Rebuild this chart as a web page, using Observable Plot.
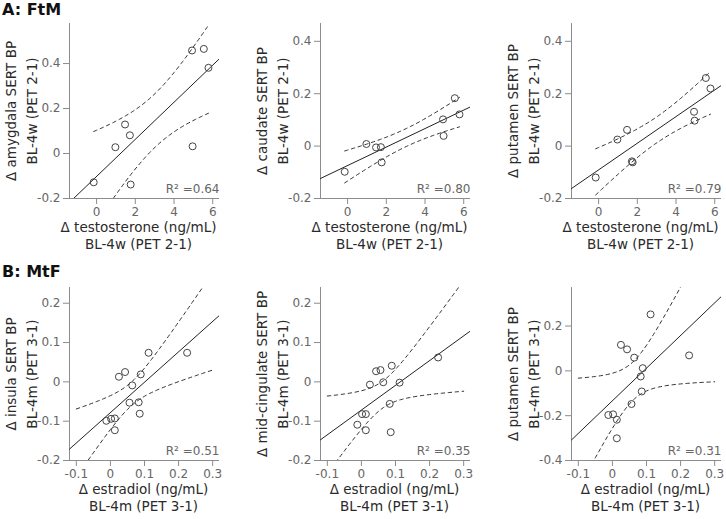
<!DOCTYPE html>
<html><head><meta charset="utf-8">
<script src="https://cdn.jsdelivr.net/npm/d3@7"></script>
<script src="https://cdn.jsdelivr.net/npm/@observablehq/plot@0.6"></script>
<style>
body{margin:0;background:#fff;font-family:"DejaVu Sans",Verdana,sans-serif;}
#wrap{position:relative;width:726px;height:519px;overflow:hidden;background:#fff;}
.pn{position:absolute;width:251px;height:259px;}
.pn svg{max-width:none !important;}
.ttl{position:absolute;font-weight:bold;font-size:16px;line-height:16px;color:#111;}
</style></head>
<body><div id="wrap"></div>
<script>
// ---- data ----
const testosterone = [-0.15, 0.97, 1.47, 1.72, 1.76, 4.93, 4.96, 5.54, 5.78];
const amygdalaFtM = [-0.128, 0.028, 0.129, 0.081, -0.138, 0.458, 0.032, 0.465, 0.381];
const caudateFtM  = [-0.098, 0.008, -0.005, -0.004, -0.062, 0.102, 0.039, 0.183, 0.121];
const putamenFtM  = [-0.120, 0.025, 0.062, -0.058, -0.062, 0.131, 0.097, 0.260, 0.220];

const estradiol = [-0.012, 0.002, 0.013, 0.013, 0.025, 0.043, 0.056, 0.064, 0.083, 0.086, 0.089, 0.112, 0.225];
const insulaMtF   = [-0.099, -0.094, -0.093, -0.123, 0.013, 0.025, -0.053, -0.009, -0.052, -0.081, 0.019, 0.074, 0.074];
const cingulateMtF= [-0.109, -0.082, -0.082, -0.123, -0.007, 0.027, 0.030, -0.001, -0.056, -0.128, 0.041, -0.002, 0.062];
const putamenMtF  = [-0.197, -0.194, -0.218, -0.301, 0.116, 0.096, -0.148, 0.059, -0.025, -0.092, 0.012, 0.252, 0.069];

const r2Labels = ["0.64", "0.80", "0.79", "0.51", "0.35", "0.31"];
const ticksTestosterone = [0, 2, 4, 6];
const ticksEstradiol = [-0.1, 0, 0.1, 0.2, 0.3];
const ticksA1 = [-0.2, 0, 0.2, 0.4];
const ticksA23 = [-0.2, 0, 0.2, 0.4];
const ticksB12 = [-0.2, -0.1, 0, 0.1, 0.2];
const ticksB3 = [-0.4, -0.2, 0, 0.2];
const ciRangeMtF = [-0.1, 0.3];
const tCrit = {7: 2.365, 11: 2.201};

// ---- helpers ----
function fit(xs, ys) {
  const n = xs.length, mx = d3.mean(xs), my = d3.mean(ys);
  let sxx = 0, sxy = 0;
  for (let i = 0; i < n; i++) { sxx += (xs[i]-mx)**2; sxy += (xs[i]-mx)*(ys[i]-my); }
  const b = sxy/sxx, a = my - b*mx;
  let sse = 0;
  for (let i = 0; i < n; i++) sse += (ys[i] - a - b*xs[i])**2;
  const s = Math.sqrt(sse/(n-2));
  const t = tCrit[n-2];
  return {a, b, f: x => a + b*x, half: x => t*s*Math.sqrt(1/n + (x-mx)**2/sxx)};
}

const axisColor = "#8c8c8c", tickText = "#666", labelColor = "#2a2a2a";
const fmt = d => String(d);

function panel(o) {
  const {xs, ys, xDomain, yDomain, xTicks, yTicks, yLabel, xLabel, r2, ciRange, mt, mb, xdx} = o;
  const m = fit(xs, ys);
  const pts = xs.map((x, i) => ({x, y: ys[i]}));
  const reg = xDomain.map(x => ({x, y: m.f(x)}));
  const ci = d3.range(0, 81).map(i => ciRange[0] + (ciRange[1]-ciRange[0])*i/80);
  const up = ci.map(x => ({x, y: m.f(x) + m.half(x)}));
  const lo = ci.map(x => ({x, y: m.f(x) - m.half(x)}));
  return Plot.plot({
    width: 251, height: 259,
    marginLeft: 69, marginRight: 32, marginTop: mt, marginBottom: mb,
    x: {domain: xDomain}, y: {domain: yDomain},
    style: {fontFamily: "DejaVu Sans", background: "transparent", overflow: "visible", maxWidth: "none"},
    marks: [
      Plot.ruleX([xDomain[0]], {stroke: axisColor}),
      Plot.ruleY([yDomain[0]], {stroke: axisColor}),
      Plot.axisX(xTicks, {tickSize: 6, tickPadding: 3, fontSize: 12, stroke: axisColor, fill: tickText, label: null, tickFormat: fmt}),
      Plot.axisY(yTicks, {tickSize: 6, tickPadding: 3, fontSize: 12, stroke: axisColor, fill: tickText, label: null, tickFormat: fmt}),
      Plot.line(reg, {x: "x", y: "y", stroke: "#222", strokeWidth: 1, clip: true}),
      Plot.line(up, {x: "x", y: "y", stroke: "#333", strokeWidth: 1, strokeDasharray: "3.5,3.5", clip: true}),
      Plot.line(lo, {x: "x", y: "y", stroke: "#333", strokeWidth: 1, strokeDasharray: "3.5,3.5", clip: true}),
      Plot.dot(pts, {x: "x", y: "y", r: 3.5, stroke: "#444", fill: "none", strokeWidth: 1}),
      Plot.text(["R\u00b2 =" + r2], {text: d => d, frameAnchor: "bottom-right", textAnchor: "end", lineAnchor: "bottom", dy: -6, fontSize: 12, fill: tickText}),
      Plot.text([yLabel[0]], {text: d => d, frameAnchor: "left", textAnchor: "middle", rotate: -90, dx: -58, fontSize: 13.5, fill: labelColor}),
      Plot.text([yLabel[1]], {text: d => d, frameAnchor: "left", textAnchor: "middle", rotate: -90, dx: -37, fontSize: 13.5, fill: labelColor}),
      Plot.text([xLabel[0]], {text: d => d, frameAnchor: "bottom", textAnchor: "middle", dy: 33, dx: xdx, fontSize: 13.5, fill: labelColor}),
      Plot.text([xLabel[1]], {text: d => d, frameAnchor: "bottom", textAnchor: "middle", dy: 50, dx: xdx, fontSize: 13.5, fill: labelColor})
    ]
  });
}

const wrap = document.getElementById("wrap");
const xLabA = ["\u0394 testosterone (ng/mL)", "BL-4w (PET 2-1)"];
const xLabB = ["\u0394 estradiol (ng/mL)", "BL-4m (PET 3-1)"];
const xDomA = [-1.4, 6.35], xDomB = [-0.12, 0.32];
const ciA = d3.extent(testosterone);

const specs = [
  {xs: testosterone, ys: amygdalaFtM, xDomain: xDomA, yDomain: [-0.2, 0.578], xTicks: ticksTestosterone, yTicks: ticksA1,
   yLabel: ["\u0394 amygdala SERT BP", "BL-4w (PET 2-1)"], xLabel: xLabA, r2: r2Labels[0], ciRange: ciA, left: 0, top: 0, mt: 23, mb: 61, xdx: -6},
  {xs: testosterone, ys: caudateFtM, xDomain: xDomA, yDomain: [-0.2, 0.468], xTicks: ticksTestosterone, yTicks: ticksA23,
   yLabel: ["\u0394 caudate SERT BP", "BL-4w (PET 2-1)"], xLabel: xLabA, r2: r2Labels[1], ciRange: ciA, left: 251, top: 0, mt: 23, mb: 61, xdx: -6},
  {xs: testosterone, ys: putamenFtM, xDomain: xDomA, yDomain: [-0.2, 0.468], xTicks: ticksTestosterone, yTicks: ticksA23,
   yLabel: ["\u0394 putamen SERT BP", "BL-4w (PET 2-1)"], xLabel: xLabA, r2: r2Labels[2], ciRange: ciA, left: 502, top: 0, mt: 23, mb: 61, xdx: -6},
  {xs: estradiol, ys: insulaMtF, xDomain: xDomB, yDomain: [-0.2, 0.24], xTicks: ticksEstradiol, yTicks: ticksB12,
   yLabel: ["\u0394 insula SERT BP", "BL-4m (PET 3-1)"], xLabel: xLabB, r2: r2Labels[3], ciRange: ciRangeMtF, left: 0, top: 260, mt: 27, mb: 59, xdx: -1},
  {xs: estradiol, ys: cingulateMtF, xDomain: xDomB, yDomain: [-0.2, 0.24], xTicks: ticksEstradiol, yTicks: ticksB12,
   yLabel: ["\u0394 mid-cingulate SERT BP", "BL-4m (PET 3-1)"], xLabel: xLabB, r2: r2Labels[4], ciRange: ciRangeMtF, left: 251, top: 260, mt: 27, mb: 59, xdx: -1},
  {xs: estradiol, ys: putamenMtF, xDomain: xDomB, yDomain: [-0.4, 0.372], xTicks: ticksEstradiol, yTicks: ticksB3,
   yLabel: ["\u0394 putamen SERT BP", "BL-4m (PET 3-1)"], xLabel: xLabB, r2: r2Labels[5], ciRange: ciRangeMtF, left: 502, top: 260, mt: 27, mb: 59, xdx: -1}
];

for (const s of specs) {
  const d = document.createElement("div");
  d.className = "pn"; d.style.left = s.left + "px"; d.style.top = s.top + "px";
  d.appendChild(panel(s));
  wrap.appendChild(d);
}
const t1 = document.createElement("div"); t1.className = "ttl"; t1.style.left = "2px"; t1.style.top = "2px"; t1.textContent = "A: FtM";
const t2 = document.createElement("div"); t2.className = "ttl"; t2.style.left = "2px"; t2.style.top = "264px"; t2.textContent = "B: MtF";
wrap.appendChild(t1); wrap.appendChild(t2);
</script></body></html>
